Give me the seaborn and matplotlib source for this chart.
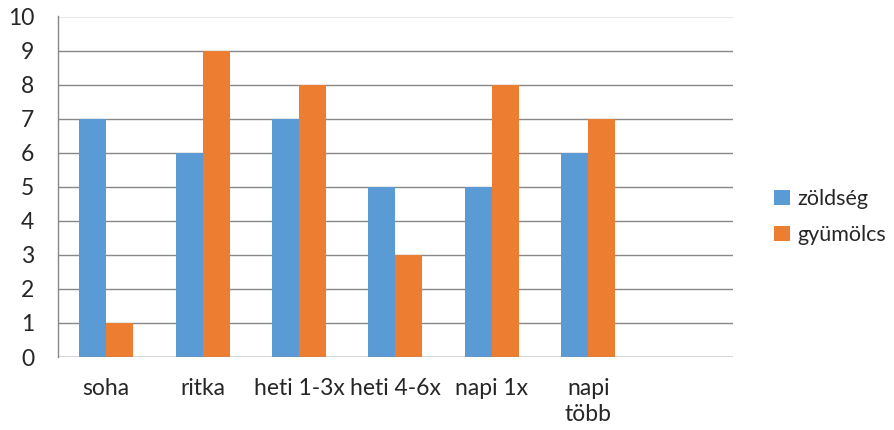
import matplotlib
matplotlib.use("Agg")
import matplotlib.pyplot as plt
import seaborn as sns
import pandas as pd

categories = ["soha", "ritka", "heti 1-3x", "heti 4-6x", "napi 1x", "napi\ntöbb"]
zoldseg = [7, 6, 7, 5, 5, 6]
gyumolcs = [1, 9, 8, 3, 8, 7]
series_names = ["zöldség", "gyümölcs"]
colors = ["#5B9BD5", "#ED7D31"]
y_ticks = list(range(0, 11))

sns.set_theme(style="white")
plt.rcParams["font.family"] = ["Lato", "DejaVu Sans"]

df = pd.DataFrame({
    "kategoria": categories * 2,
    "ertek": zoldseg + gyumolcs,
    "sorozat": [series_names[0]] * len(categories) + [series_names[1]] * len(categories),
})

fig = plt.figure(figsize=(8.94, 4.30), dpi=100)
ax = fig.add_axes([58 / 894, 1 - 357 / 430, (733 - 58) / 894, (357 - 16.5) / 430])

sns.barplot(data=df, x="kategoria", y="ertek", hue="sorozat", order=categories,
            hue_order=series_names, palette=colors, width=0.56, saturation=1,
            edgecolor="none", linewidth=0, ax=ax, zorder=3)

text_color = "#262626"
fs = 16.5

ax.set_xlim(-0.5, 6.5)
ax.set_ylim(0, 10)
ax.set_yticks(y_ticks)
ax.set_yticklabels([str(t) for t in y_ticks], fontsize=fs, color=text_color)
ax.set_xlabel("")
ax.set_ylabel("")
ax.tick_params(axis="x", length=0, pad=15, labelsize=fs, labelcolor=text_color)
ax.tick_params(axis="y", length=0, pad=17)
for lbl in ax.get_xticklabels():
    lbl.set_linespacing(1.3)

ax.yaxis.grid(True, color="#888888", linewidth=1, zorder=0)
ax.set_axisbelow(True)
for side in ["top", "right", "bottom"]:
    ax.spines[side].set_visible(False)
ax.spines["left"].set_color("#888888")
ax.spines["left"].set_linewidth(1)
ax.axhline(0, color="#888888", linewidth=1, zorder=4)

leg = ax.legend(loc="center left", bbox_to_anchor=((774 - 58) / (733 - 58), (357 - 217) / 340.5),
                frameon=False, fontsize=15.5, handlelength=0.75, handleheight=0.75,
                handletextpad=0.35, labelspacing=0.75, borderaxespad=0, borderpad=0)
for t in leg.get_texts():
    t.set_color(text_color)

fig.savefig("out.png", dpi=100)
